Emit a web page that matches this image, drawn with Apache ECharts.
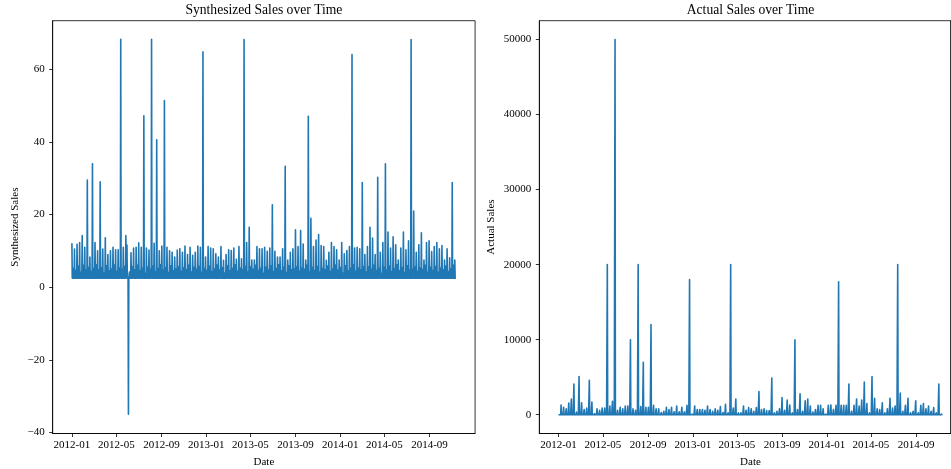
<!DOCTYPE html>
<html><head><meta charset="utf-8">
<script src="https://cdn.jsdelivr.net/npm/echarts@6/dist/echarts.min.js"></script>
<style>html,body{margin:0;padding:0;background:#fff}#chart{width:951px;height:469px}</style>
</head><body><div id="chart"></div>
<script>
// ---------------- data ----------------
const dataStart = '2012-01-01';
const dataEnd = '2014-11-12';
const firstWeeklyPeak = '2012-01-08';   // weekly sale days, every 7 days from here
const tickLabels = ['2012-01','2012-05','2012-09','2013-01','2013-05','2013-09','2014-01','2014-05','2014-09'];
const synthTicks = [-40, -20, 0, 20, 40, 60];
const actualTicks = [0, 10000, 20000, 30000, 40000, 50000];

const synthBaseline = 2.5;     // value on non-sale days
const synthFirstValue = 12.1;  // first day of the series
const actualBaseline = 0;

// weekly sale-day values (actual sales)
const actualWeekly = [
  1300,1000,800,1550,2100,4100,350,5100,1600,700,
  900,4600,1700,150,800,600,900,900,20000,1150,
  1800,50000,600,1000,800,1150,1150,10000,800,600,
  20000,1100,7000,1000,1000,12000,1250,800,800,300,
  450,1000,700,1000,400,1150,400,1000,400,1250,
  18000,100,1150,700,700,700,600,1150,700,450,
  800,600,1100,300,1400,250,20000,900,2100,250,
  250,1150,600,950,800,450,950,3100,700,800,
  550,550,4900,250,450,800,2300,600,1950,1300,
  250,10000,700,2800,450,1850,2100,1150,350,700,
  1250,1250,800,100,1250,1300,700,1250,17700,1250,
  1250,1250,4100,450,1250,2100,1150,1950,4350,1500,
  250,5100,2200,800,700,1600,250,800,2200,900,
  1150,20000,2900,450,1250,2200,250,450,1850,250,
  1250,1500,800,1150,450,950,250,4100,100
];

// weekly sale-day values (synthesized sales)
const synthWeekly = [
  10.5,11.8,12.3,14.2,11,29.5,8.3,34,12.3,10,
  29,10.5,13.6,9,10,11,10.3,10.3,68.3,11,
  14.2,-35,9.5,10.8,11,12.2,11,47.2,10.8,10.2,
  68.3,12.1,40.6,10,11.3,51.4,11,10,9.6,8.3,
  10.2,10.6,9.6,11.3,9,11,8.8,9.6,11.3,11,
  64.8,8.3,11.2,10.8,10.6,9.2,8.3,11.2,7.4,9,
  10.3,10.1,10.8,7.7,11.2,7.8,68.2,12.3,16.5,7.5,
  7.5,11.2,10.6,10.6,11,9.9,10.8,22.7,9.9,8.3,
  8.3,10.6,33.3,7.5,9.6,10.6,15.8,11.2,15.6,11.9,
  7.5,47.1,19,11.2,13,14.5,11.5,11.2,7.4,9.6,
  12.3,11.2,10.3,7.5,12.3,9.2,10.1,11.2,64.1,10.8,
  11,10.6,28.8,9,11.2,16.5,13.5,9,30.3,9.6,
  12.3,34,15.2,10.8,13.9,11.7,7.5,10.8,15.2,10.3,
  12.8,68.2,21,9.6,11.7,15,7.5,12.3,12.8,9.8,
  11.2,12.3,10.6,11.5,7.5,10.6,8.1,28.8,7.5
];

// mid-week values of the synthesized series (estimated, low band)
const synthMidweek = [
  5.2,4.6,5.8,4.1,6.0,4.8,5.5,4.3,5.1,6.2,
  4.7,5.4,3.9,5.9,4.5,5.0,6.1,4.4,5.3,4.9,
  5.7,11.6,4.2,5.6,4.8,6.0,4.6,5.2,3.8,5.5,
  4.9,5.8,4.3,5.1,6.2,4.7,5.4,4.0,5.9,4.5,
  5.0,5.6,4.4,5.3,4.8,6.0,4.2,5.5,4.9,5.7,
  4.1,5.2,4.6,5.8,4.3,5.0,6.1,4.7,5.4,3.9,
  5.9,4.5,5.1,6.2,4.4,5.3,4.8,5.7,4.2,5.6,
  4.9,6.0,4.6,5.2,3.8,5.5,4.7,5.8,4.3,5.1,
  6.2,4.5,5.4,4.0,5.9,4.8,5.0,5.6,4.4,5.3,
  4.9,6.0,4.2,5.5,4.6,5.7,4.1,5.2,4.8,5.8,
  4.3,5.0,6.1,4.7,5.4,3.9,5.9,4.5,5.1,6.2,
  4.4,5.3,4.8,5.7,4.2,5.6,4.9,6.0,4.6,5.2,
  3.8,5.5,4.7,5.8,4.3,5.1,6.2,4.5,5.4,4.0,
  5.9,4.8,5.0,5.6,4.4,5.3,4.9,6.0,4.2,5.5,
  4.6,5.7,4.1,5.2,4.8,5.8,4.3,5.0,6.1
];

// ---------------- build ----------------
const DAY = 86400000;
function ts(s) { const p = s.split('-').map(Number); return Date.UTC(p[0], p[1] - 1, p[2] || 1); }
const tStart = ts(dataStart), tEnd = ts(dataEnd), tPeak0 = ts(firstWeeklyPeak);
const nDays = Math.round((tEnd - tStart) / DAY) + 1;
const peakOff = Math.round((tPeak0 - tStart) / DAY);

function buildDaily(baseline, weekly, mid, firstValue) {
  const vals = new Array(nDays).fill(baseline);
  if (firstValue != null) vals[0] = firstValue;
  if (mid) mid.forEach((v, w) => { const i = peakOff + 7 * w - 4; if (i >= 0 && i < nDays) vals[i] = v; });
  weekly.forEach((v, w) => { const i = peakOff + 7 * w; if (i < nDays) vals[i] = v; });
  return vals.map((v, i) => [tStart + i * DAY, v]);
}
const synthData = buildDaily(synthBaseline, synthWeekly, synthMidweek, synthFirstValue);
const actualData = buildDaily(actualBaseline, actualWeekly, null, null);

const tickTs = tickLabels.map(ts);
const spanDays = nDays - 1;
const xMin = tStart - 0.05 * spanDays * DAY;
const xMax = tEnd + 0.05 * spanDays * DAY;

const FONT = 'Liberation Serif';
const BLACK = '#000';
const BLUE = '#1f77b4';

function xAxisCfg(gi) {
  return {
    type: 'value', gridIndex: gi, min: xMin, max: xMax, scale: true,
    name: 'Date', nameLocation: 'middle', nameGap: 23,
    nameTextStyle: { fontFamily: FONT, fontSize: 11, color: BLACK },
    axisLine: { show: true, onZero: false, lineStyle: { color: BLACK, width: 0.8 } },
    axisTick: { show: true, length: 3.5, customValues: tickTs, lineStyle: { color: BLACK, width: 0.8 } },
    axisLabel: {
      show: true, customValues: tickTs, margin: 6, hideOverlap: false,
      fontFamily: FONT, fontSize: 11, color: BLACK,
      formatter: function (v) {
        let k = -1;
        for (let j = 0; j < tickTs.length; j++) if (Math.abs(tickTs[j] - v) < DAY) k = j;
        return k >= 0 ? tickLabels[k] : '';
      }
    },
    splitLine: { show: false }, minorTick: { show: false }
  };
}
function yAxisCfg(gi, name, min, max, ticks, gap) {
  return {
    type: 'value', gridIndex: gi, min: min, max: max,
    name: name, nameLocation: 'middle', nameGap: gap, nameRotate: 90,
    nameTextStyle: { fontFamily: FONT, fontSize: 11, color: BLACK },
    axisLine: { show: true, onZero: false, lineStyle: { color: BLACK, width: 0.8 } },
    axisTick: { show: true, length: 3.5, customValues: ticks, lineStyle: { color: BLACK, width: 0.8 } },
    axisLabel: {
      show: true, customValues: ticks, margin: 8,
      fontFamily: FONT, fontSize: 11, color: BLACK,
      formatter: function (v) { return String(v).replace('-', '\u2212'); }
    },
    splitLine: { show: false }
  };
}

const chart = echarts.init(document.getElementById('chart'), null, { renderer: 'canvas' });
chart.setOption({
  animation: false,
  backgroundColor: '#fff',
  title: [
    { text: 'Synthesized Sales over Time', left: 263.9, top: 3.5, textAlign: 'center', padding: 0,
      textStyle: { fontFamily: FONT, fontSize: 13.6, fontWeight: 'normal', color: BLACK } },
    { text: 'Actual Sales over Time', left: 750.5, top: 3.5, textAlign: 'center', padding: 0,
      textStyle: { fontFamily: FONT, fontSize: 13.6, fontWeight: 'normal', color: BLACK } }
  ],
  grid: [
    { left: 52.7, top: 20.7, width: 422.4, height: 412.8, show: true, borderColor: BLACK, borderWidth: 0.8,
      backgroundColor: 'transparent', containLabel: false, outerBoundsMode: 'none' },
    { left: 539.3, top: 20.7, width: 422.4, height: 412.8, show: true, borderColor: BLACK, borderWidth: 0.8,
      backgroundColor: 'transparent', containLabel: false, outerBoundsMode: 'none' }
  ],
  graphic: [
    { type: 'line', silent: true, shape: { x1: 950.5, y1: 20.7, x2: 950.5, y2: 433.5 },
      style: { stroke: BLACK, lineWidth: 0.8 } }
  ],
  xAxis: [xAxisCfg(0), xAxisCfg(1)],
  yAxis: [
    yAxisCfg(0, 'Synthesized Sales', -40.3, 73.4, synthTicks, 32),
    yAxisCfg(1, 'Actual Sales', -2500, 52500, actualTicks, 43)
  ],
  series: [
    { type: 'line', xAxisIndex: 0, yAxisIndex: 0, data: synthData, showSymbol: false, symbol: 'none',
      lineStyle: { color: BLUE, width: 1.6, join: 'round', cap: 'butt' }, itemStyle: { color: BLUE }, silent: true },
    { type: 'line', xAxisIndex: 1, yAxisIndex: 1, data: actualData, showSymbol: false, symbol: 'none',
      lineStyle: { color: BLUE, width: 1.6, join: 'round', cap: 'butt' }, itemStyle: { color: BLUE }, silent: true }
  ]
});

// draw every daily point: turn off the polyline's tiny-segment skipping
(function () {
  const list = chart.getZr().storage.getDisplayList(true);
  list.forEach(function (el) {
    if (el.type === 'ec-polyline' || (el.shape && el.shape.points && el.segmentIgnoreThreshold)) {
      el.segmentIgnoreThreshold = 0.001;
      if (el.path && el.path.setScale) el.path.setScale(1, 1, 0.001);
      if (el.dirtyShape) el.dirtyShape(); else el.dirty();
    }
  });
  chart.getZr().refreshImmediately();
})();
</script>
</body></html>
